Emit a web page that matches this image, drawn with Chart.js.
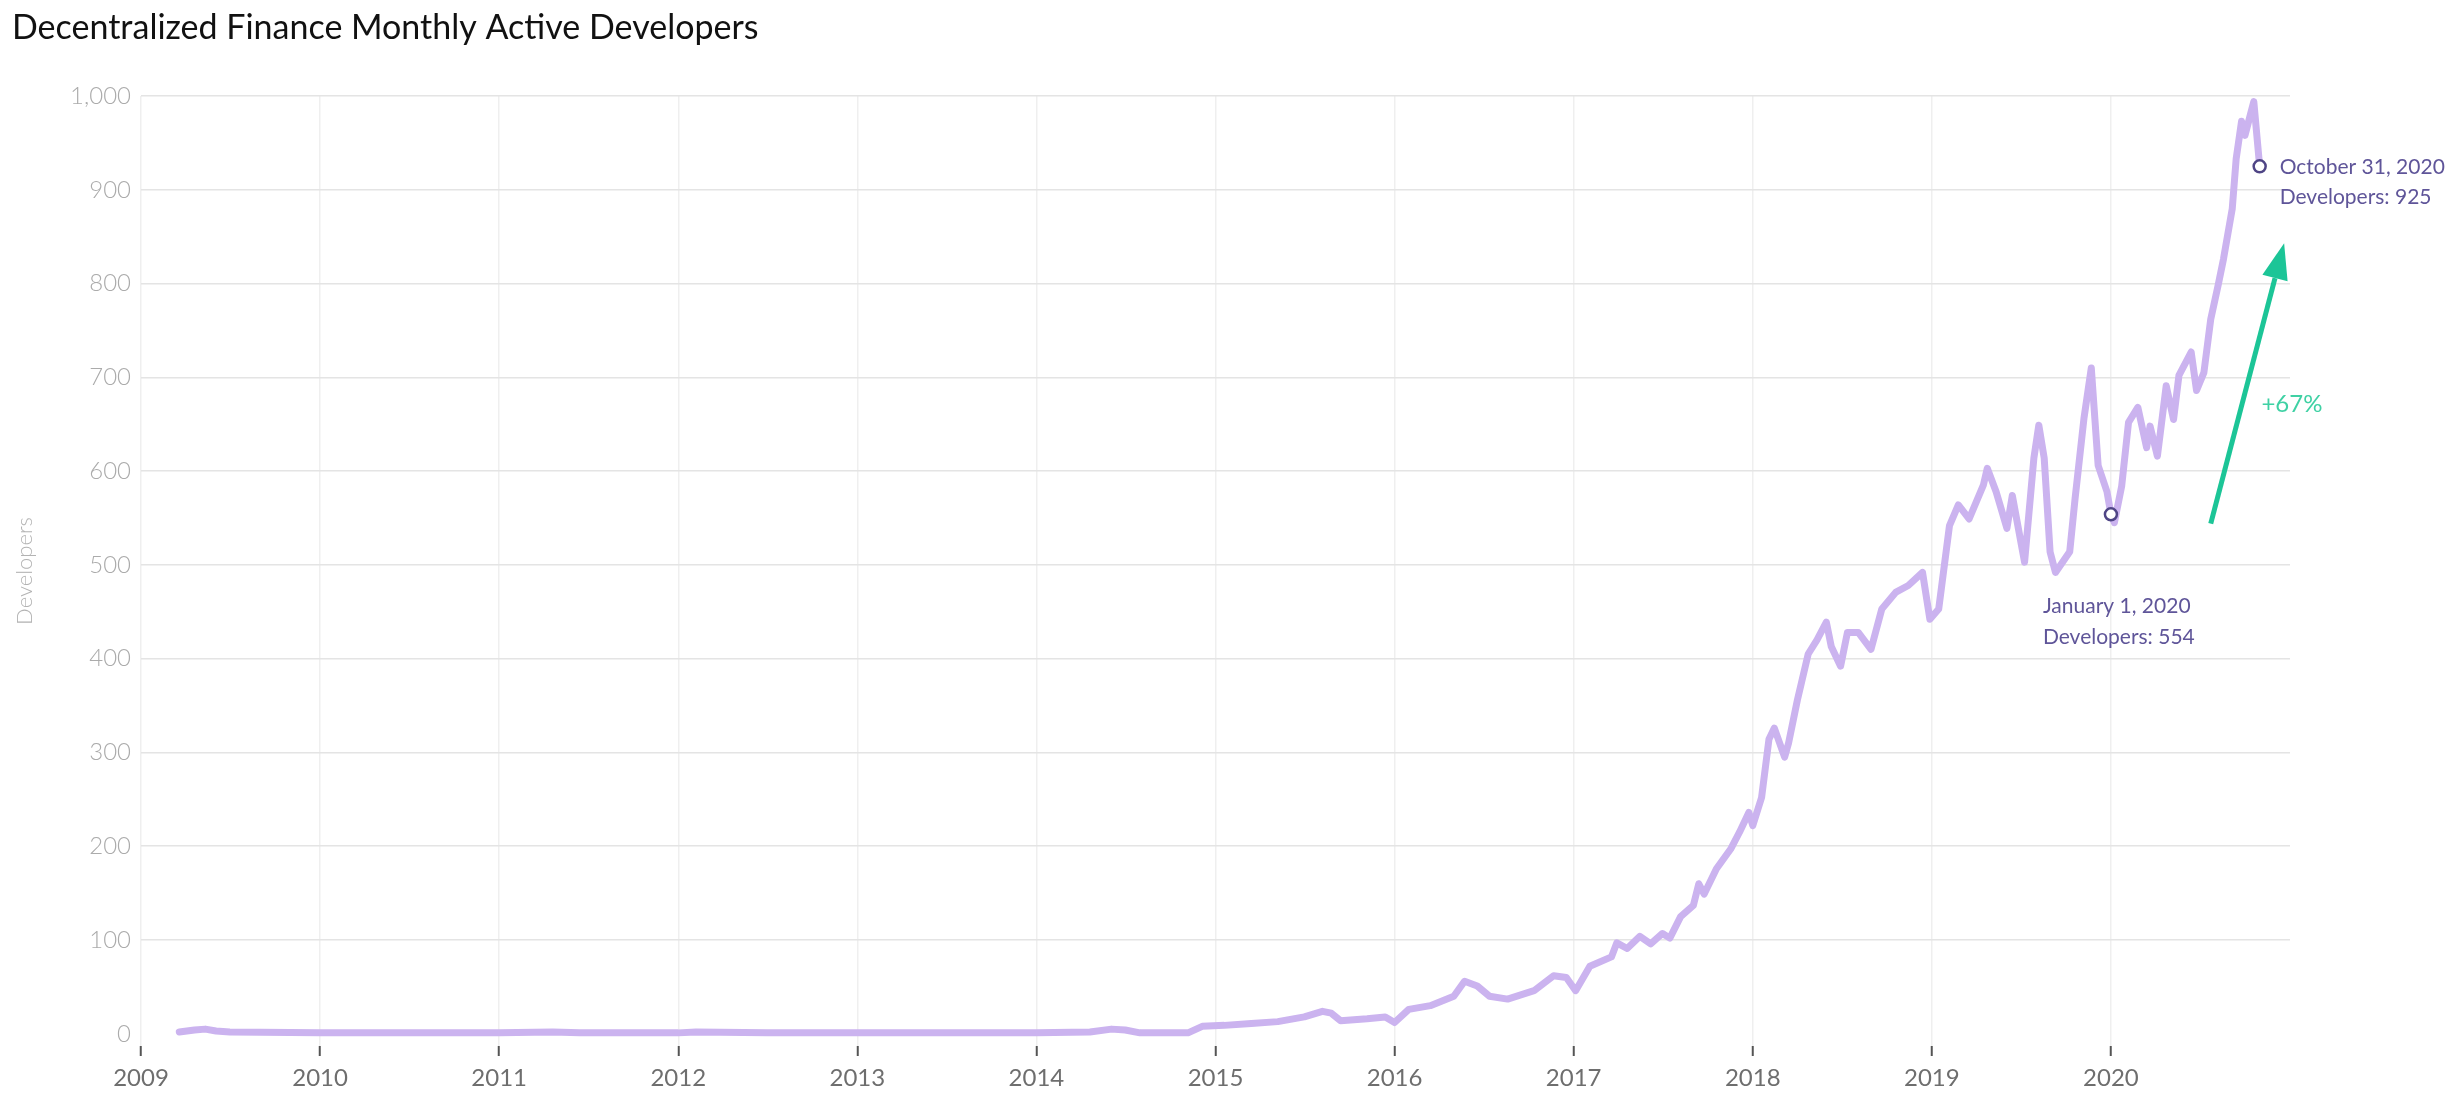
<!DOCTYPE html>
<html>
<head>
<meta charset="utf-8">
<title>Decentralized Finance Monthly Active Developers</title>
<script src="https://cdn.jsdelivr.net/npm/chart.js@4/dist/chart.umd.min.js"></script>
<style>
  html, body { margin: 0; padding: 0; background: #fff; }
  canvas { display: block; }
</style>
</head>
<body>
<canvas id="devChart" width="2454" height="1114"></canvas>
<script>
/* ── Data ────────────────────────────────────────────────────── */
const dates = [
  '2009-03-20','2009-04-20','2009-05-12','2009-06-03','2009-07-01','2010-01-01','2010-08-07',
  '2011-01-01','2011-04-20','2011-06-14','2012-01-01','2012-02-06','2012-07-01','2013-01-01',
  '2013-07-01','2014-01-01','2014-04-20','2014-06-03','2014-07-01','2014-07-31','2014-11-06',
  '2014-12-05','2015-01-19','2015-03-15','2015-05-08','2015-07-01','2015-08-07','2015-08-25',
  '2015-09-13','2015-11-06','2015-12-13','2016-01-01','2016-01-30','2016-03-14','2016-05-01',
  '2016-05-23','2016-06-18','2016-07-13','2016-08-19','2016-10-12','2016-11-21','2016-12-17',
  '2017-01-05','2017-02-03','2017-03-19','2017-03-30','2017-04-20','2017-05-16','2017-06-07',
  '2017-07-01','2017-07-16','2017-08-07','2017-09-02','2017-09-13','2017-09-24','2017-10-19',
  '2017-11-17','2017-12-05','2017-12-24','2018-01-01','2018-01-19','2018-02-03','2018-02-14',
  '2018-03-07','2018-03-15','2018-04-02','2018-04-24','2018-05-12','2018-05-31','2018-06-10',
  '2018-06-29','2018-07-13','2018-08-04','2018-08-30','2018-09-21','2018-10-20','2018-11-14',
  '2018-12-13','2018-12-28','2019-01-15','2019-02-06','2019-02-24','2019-03-18','2019-04-16',
  '2019-04-24','2019-05-12','2019-06-03','2019-06-14','2019-07-09','2019-07-28','2019-08-07',
  '2019-08-18','2019-08-30','2019-09-10','2019-10-09','2019-10-20','2019-11-07','2019-11-22',
  '2019-12-06','2019-12-24','2020-01-01','2020-01-08','2020-01-23','2020-02-06','2020-02-25',
  '2020-03-14','2020-03-21','2020-04-05','2020-04-23','2020-05-08','2020-05-19','2020-06-13',
  '2020-06-24','2020-07-09','2020-07-23','2020-08-07','2020-08-18','2020-09-05','2020-09-13',
  '2020-09-24','2020-10-01','2020-10-12','2020-10-19','2020-10-31'
];
const developers = [
  2, 4, 5, 3, 2, 1, 1,
  1, 2, 1, 1, 2, 1, 1,
  1, 1, 2, 5, 4, 1, 1,
  8, 9, 11, 13, 18, 24, 22,
  14, 16, 18, 12, 26, 30, 40,
  56, 51, 40, 37, 46, 62, 60,
  46, 72, 82, 97, 91, 104, 96,
  107, 102, 125, 137, 160, 149, 176,
  197, 215, 236, 222, 252, 314, 326,
  295, 310, 356, 405, 420, 439, 413,
  392, 428, 428, 410, 453, 471, 478,
  492, 442, 453, 542, 564, 549, 585,
  603, 578, 539, 574, 503, 614, 649,
  614, 514, 492, 514, 571, 656, 710,
  606, 578, 554, 545, 584, 652, 668,
  625, 648, 616, 691, 655, 702, 727,
  686, 705, 762, 798, 826, 880, 933,
  973, 958, 980, 994, 925
];
const yearTicks = [2009, 2010, 2011, 2012, 2013, 2014, 2015, 2016, 2017, 2018, 2019, 2020];
const valueTicks = [0, 100, 200, 300, 400, 500, 600, 700, 800, 900, 1000];

// highlighted points, with their labels
const markDates = ['2020-01-01', '2020-10-31'];
const markValues = [554, 925];
const markLabels = [['January 1, 2020', 'Developers: 554'], ['October 31, 2020', 'Developers: 925']];

// growth arrow (start, end) and its label
const arrowDates = ['2020-07-23', '2020-12-20'];
const arrowValues = [544, 843];
const growthLabel = '+67%';

/* ── Helpers ─────────────────────────────────────────────────── */
// 'YYYY-MM-DD' -> decimal year, used as the x value
function toYear(s) {
  const [y, m, d] = s.split('-').map(Number);
  const start = Date.UTC(y, 0, 1), end = Date.UTC(y + 1, 0, 1);
  return y + (Date.UTC(y, m - 1, d) - start) / (end - start);
}

const FONT = "Lato, 'Open Sans', sans-serif";
const points = dates.map((d, i) => ({ x: toYear(d), y: developers[i] }));

/* ── Annotations: growth arrow, marked points, labels ────────── */
const annotations = {
  id: 'annotations',
  afterDatasetsDraw(chart) {
    const { ctx, scales: { x, y } } = chart;
    ctx.save();

    // arrow
    const x0 = x.getPixelForValue(toYear(arrowDates[0])), y0 = y.getPixelForValue(arrowValues[0]);
    const x1 = x.getPixelForValue(toYear(arrowDates[1])), y1 = y.getPixelForValue(arrowValues[1]);
    const ang = Math.atan2(y1 - y0, x1 - x0);
    const headLen = 36, headHalf = 13;
    const bx = x1 - headLen * Math.cos(ang), by = y1 - headLen * Math.sin(ang);
    ctx.strokeStyle = '#1cc597';
    ctx.fillStyle = '#1cc597';
    ctx.lineWidth = 5;
    ctx.beginPath(); ctx.moveTo(x0, y0); ctx.lineTo(bx, by); ctx.stroke();
    ctx.beginPath();
    ctx.moveTo(x1, y1);
    ctx.lineTo(bx + headHalf * Math.sin(ang), by - headHalf * Math.cos(ang));
    ctx.lineTo(bx - headHalf * Math.sin(ang), by + headHalf * Math.cos(ang));
    ctx.closePath(); ctx.fill();

    ctx.font = `24px ${FONT}`;
    ctx.fillStyle = '#3fd1a4';
    ctx.textAlign = 'left';
    ctx.textBaseline = 'middle';
    ctx.fillText(growthLabel, (x0 + x1) / 2 + 14, (y0 + y1) / 2 + 21);

    // marked points
    markDates.forEach((d, i) => {
      const px = x.getPixelForValue(toYear(d)), py = y.getPixelForValue(markValues[i]);
      ctx.beginPath();
      ctx.arc(px, py, 6, 0, Math.PI * 2);
      ctx.fillStyle = '#fff';
      ctx.fill();
      ctx.lineWidth = 2.5;
      ctx.strokeStyle = '#4f4585';
      ctx.stroke();

      ctx.font = `21px ${FONT}`;
      ctx.fillStyle = '#5f5599';
      ctx.textAlign = 'left';
      const [l1, l2] = markLabels[i];
      if (i === 0) {
        ctx.fillText(l1, px - 68, py + 92);
        ctx.fillText(l2, px - 68, py + 123);
      } else {
        ctx.fillText(l1, px + 20, py + 1);
        ctx.fillText(l2, px + 20, py + 31);
      }
    });
    ctx.restore();
  }
};

/* ── Chart ───────────────────────────────────────────────────── */
new Chart(document.getElementById('devChart'), {
  type: 'line',
  data: {
    datasets: [{
      data: points,
      borderColor: '#cbb3ef',
      borderWidth: 7,
      borderJoinStyle: 'round',
      borderCapStyle: 'round',
      pointRadius: 0,
      tension: 0,
      fill: false,
    }],
  },
  options: {
    responsive: false,
    animation: false,
    devicePixelRatio: 1,
    layout: { padding: { left: 12, right: 164, top: 0, bottom: 0 } },
    scales: {
      x: {
        type: 'linear',
        min: 2009, max: 2021,
        afterBuildTicks: s => { s.ticks = yearTicks.map(v => ({ value: v })); },
        afterFit: s => { s.height = 68; },
        ticks: {
          callback: v => String(v),
          color: '#6e6e6e',
          font: { family: FONT, size: 24 },
          padding: 8,
          maxRotation: 0,
          autoSkip: false,
        },
        grid: { color: '#efefef', lineWidth: 1.5, tickColor: '#555', tickLength: 10, tickWidth: 2 },
        border: { display: false },
      },
      y: {
        min: -13, max: 1000,
        afterBuildTicks: s => { s.ticks = valueTicks.map(v => ({ value: v })); },
        afterFit: s => { s.width = 129; },
        ticks: {
          callback: v => v.toLocaleString('en-US'),
          color: '#ababab',
          font: { family: FONT, size: 24, weight: 300 },
          padding: 10,
        },
        grid: {
          drawTicks: false,
          lineWidth: 1.5,
          color: c => (c.tick && c.tick.value === 0 ? 'rgba(0,0,0,0)' : '#e4e4e4'),
        },
        border: { display: false },
        title: {
          display: true,
          text: 'Developers',
          color: '#b3b3b3',
          font: { family: FONT, size: 22, weight: 300 },
          padding: { top: 0, bottom: 0 },
        },
      },
    },
    plugins: {
      legend: { display: false },
      tooltip: { enabled: false },
      title: {
        display: true,
        text: 'Decentralized Finance Monthly Active Developers',
        align: 'start',
        color: '#111',
        font: { family: FONT, size: 34, weight: 'normal' },
        padding: { top: 8, bottom: 47.2 },
      },
    },
  },
  plugins: [annotations],
});
</script>
</body>
</html>
